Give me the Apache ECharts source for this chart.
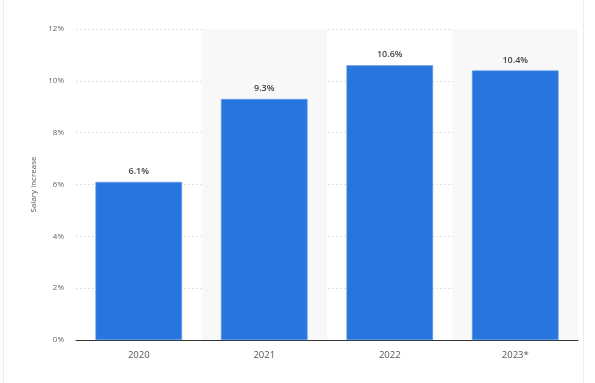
<!DOCTYPE html>
<html><head><meta charset="utf-8">
<script src="https://cdn.jsdelivr.net/npm/echarts@6/dist/echarts.min.js"></script>
<style>html,body{margin:0;padding:0;background:#fff}#c{width:595px;height:383px}</style>
</head><body><div id="c"></div>
<script>
const categories = ['2020', '2021', '2022', '2023*'];
const salaryIncrease = [6.1, 9.3, 10.6, 10.4];
const yTicks = [0, 2, 4, 6, 8, 10, 12];

const chart = echarts.init(document.getElementById('c'), null, {renderer: 'canvas'});
chart.setOption({
  animation: false,
  backgroundColor: '#fff',
  graphic: [
    {type: 'rect', shape: {x: 3, y: 0, width: 1, height: 383}, style: {fill: '#ececec'}},
    {type: 'rect', shape: {x: 583, y: 0, width: 1, height: 383}, style: {fill: '#ececec'}}
  ],
  grid: {left: 76, right: 17, top: 29, bottom: 43},
  xAxis: {
    type: 'category',
    data: categories,
    axisLine: {lineStyle: {color: '#333', width: 1}},
    axisTick: {show: false},
    axisLabel: {color: '#555', fontSize: 9.5, fontFamily: 'Open Sans', margin: 10},
    splitArea: {show: true, areaStyle: {color: ['rgba(255,255,255,0)', '#f8f8f9']}}
  },
  yAxis: {
    type: 'value',
    min: yTicks[0],
    max: yTicks[yTicks.length - 1],
    interval: 2,
    name: 'Salary increase',
    nameLocation: 'middle',
    nameGap: 37,
    nameTextStyle: {color: '#555', fontSize: 8, fontFamily: 'Open Sans'},
    axisLine: {show: false},
    axisTick: {show: false},
    axisLabel: {formatter: '{value}%', color: '#666', fontSize: 8, fontFamily: 'Open Sans', margin: 12},
    splitLine: {lineStyle: {color: '#d8d8d8', type: [2, 2], width: 0.8}}
  },
  series: [{
    type: 'bar',
    data: salaryIncrease,
    barWidth: '69%',
    itemStyle: {color: '#2876dd', borderColor: '#5b9ae9', borderWidth: 0.6},
    label: {
      show: true, position: 'top', distance: 6,
      formatter: p => p.value.toFixed(1) + '%',
      color: '#444', fontSize: 9, fontWeight: 600, fontFamily: 'Open Sans'
    }
  }]
});
</script></body></html>
